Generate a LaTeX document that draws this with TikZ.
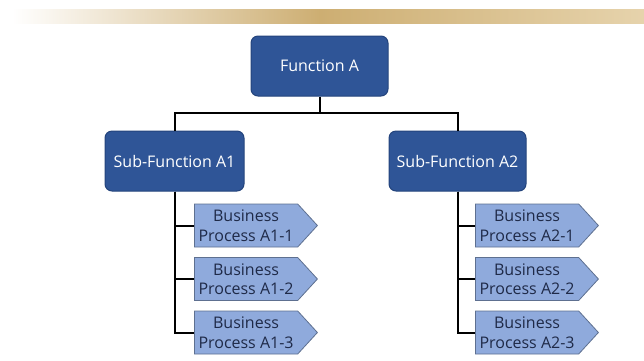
\documentclass[tikz,border=0pt]{standalone}
\usepackage{fontspec}
\setmainfont{Open Sans}
\usepackage{tikz}
\usetikzlibrary{shapes.symbols}
\definecolor{funcblue}{HTML}{2F5597}
\definecolor{funcedge}{HTML}{24447C}
\definecolor{procblue}{HTML}{8FAADC}
\definecolor{procedge}{HTML}{5E7090}
\definecolor{proctext}{HTML}{1F2A48}
\definecolor{bandgold}{HTML}{CDAE72}
\definecolor{bandlight}{HTML}{E6D3AC}
\tikzset{func/.style = {draw = funcedge, fill = funcblue, line width = 1pt, rounded corners = 7pt, text = white, font = \fontsize{16}{18}\selectfont},
    proc/.style = {signal, signal to = east, signal pointer angle = 95, draw = procedge, fill = procblue, line width = 0.8pt, text = proctext, align = center, inner sep = 1pt, minimum width = 123pt, minimum height = 43pt, anchor = west, font = \fontsize{16}{19.5}\selectfont},
    link/.style = {line width = 2pt, black}}

\begin{document}
\begin{tikzpicture}[x = 1pt, y = -1pt]
    \useasboundingbox (0, 0) rectangle (644, 360);
    \shade [left color = white, right color = bandgold] (12, 9) rectangle (320, 23);
    \shade [left color = bandgold, right color = bandlight] (320, 9) rectangle (644, 23);
    \node [func, minimum width = 137pt, minimum height = 60pt] (fa) at (319.5, 66) {Function A};
    \node [func, minimum width = 139pt, minimum height = 60pt] (sa1) at (174.5, 161) {Sub-Function A1};
    \node [func, minimum width = 137pt, minimum height = 60pt] (sa2) at (457.5, 161) {Sub-Function A2};
    \coordinate (hub) at (319.5, 113);
    \draw [link] (fa) -- (hub) -| (sa1);
    \draw [link] (hub) -| (sa2);
    \foreach \y\i in {225.5/1, 279/2, 332.5/3} {
        \node [proc] (pa\i) at (194, \y) {Business\\Process A1-\i};
        \node [proc] (pb\i) at (475, \y) {Business\\Process A2-\i};
        \draw [link] (sa1.south) |- (pa\i.west);
        \draw [link] (sa2.south) |- (pb\i.west);
    }
\end{tikzpicture}
\end{document}
